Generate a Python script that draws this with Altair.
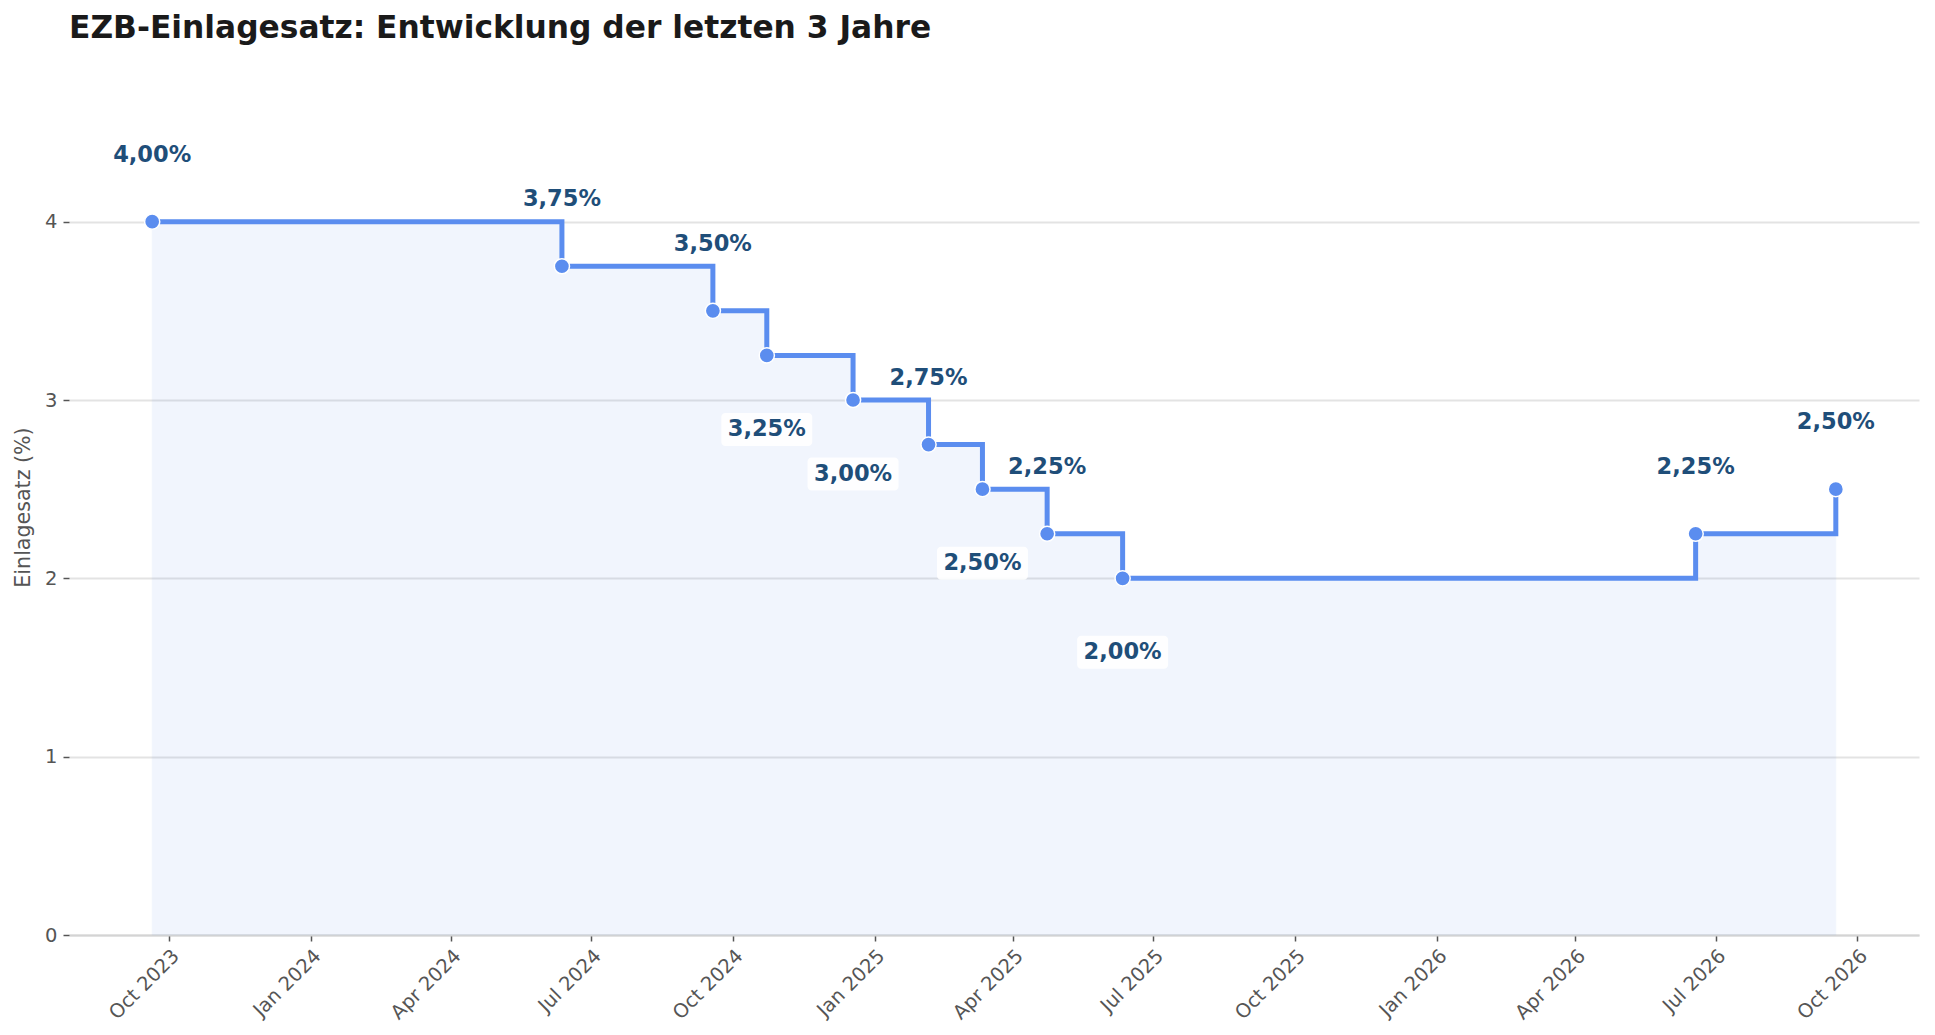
import altair as alt
import pandas as pd

# ECB deposit rate decisions (date, rate in %)
dates = ["2023-09-20", "2024-06-12", "2024-09-18", "2024-10-23", "2024-12-18",
         "2025-02-05", "2025-03-12", "2025-04-23", "2025-06-11", "2026-06-18",
         "2026-09-17"]
rates = [4.00, 3.75, 3.50, 3.25, 3.00, 2.75, 2.50, 2.25, 2.00, 2.25, 2.50]
label_side = ["oben", "oben", "oben", "unten", "unten", "oben", "unten",
              "oben", "unten", "oben", "oben"]
tick_dates = ["2023-10-01", "2024-01-01", "2024-04-01", "2024-07-01",
              "2024-10-01", "2025-01-01", "2025-04-01", "2025-07-01",
              "2025-10-01", "2026-01-01", "2026-04-01", "2026-07-01",
              "2026-10-01"]

df = pd.DataFrame({
    "datum": pd.to_datetime(dates),
    "satz": rates,
    "seite": label_side,
    "label": [f"{r:.2f}%".replace(".", ",") for r in rates],
})

BLUE = "#5B8DEF"
DARK = "#1F4E79"
GREY = "#555555"

x = alt.X(
    "datum:T",
    title=None,
    scale=alt.Scale(domain=["2023-07-28", "2026-11-10"]),
    axis=alt.Axis(
        values=[pd.Timestamp(t).isoformat() for t in tick_dates],
        format="%b %Y", labelAngle=-45, labelAlign="right", labelBaseline="top",
        labelFontSize=19.5, labelColor=GREY, labelPadding=5,
        tickColor=GREY, tickSize=6, tickWidth=1.5,
        domainColor="#d4d4d4", domainWidth=2, grid=False,
    ),
)
y = alt.Y(
    "satz:Q",
    title="Einlagesatz (%)",
    scale=alt.Scale(domain=[0, 4.8], nice=False),
    axis=alt.Axis(
        values=[0, 1, 2, 3, 4], labelFontSize=19.5, labelColor=GREY,
        labelPadding=6, tickColor=GREY, tickSize=6, tickWidth=1.5,
        domain=False, grid=True, gridColor="#e3e3e3", gridWidth=1.8,
        titleFontSize=20.6, titleFontWeight="normal", titleColor=GREY,
        titleAngle=-90, titleX=-46, titleY=428, titleAlign="center",
        titleBaseline="middle",
    ),
)

base = alt.Chart(df).encode(x=x, y=y)

area = base.mark_area(
    interpolate="step-after", color=BLUE, opacity=0.08,
    stroke=BLUE, strokeOpacity=0.6, strokeWidth=1,
)
line = base.mark_line(interpolate="step-after", color=BLUE, strokeWidth=5)
points = base.mark_point(
    filled=True, size=230, color=BLUE, opacity=1,
    stroke="white", strokeWidth=1.5,
)

above = base.transform_filter(alt.datum.seite == "oben").mark_text(
    dy=-67, font="DejaVu Sans", fontSize=22.5, fontWeight="bold", color=DARK,
    baseline="middle",
).encode(text="label:N")

below_data = base.transform_filter(alt.datum.seite == "unten")
boxes = below_data.mark_rect(
    width=91, height=33, cornerRadius=4, color="white", opacity=0.9, yOffset=74,
)
below = below_data.mark_text(
    dy=74, font="DejaVu Sans", fontSize=22.5, fontWeight="bold", color=DARK,
    baseline="middle",
).encode(text="label:N")

chart = alt.layer(area, line, points, above, boxes, below).properties(
    width=1850,
    height=856,
    autosize=alt.AutoSizeParams(type="none"),
    padding={"left": 61, "top": 71, "right": 8, "bottom": 92},
    background="white",
    title=alt.Title(
        "EZB-Einlagesatz: Entwicklung der letzten 3 Jahre",
        anchor="start", frame="group", font="DejaVu Sans", fontSize=31.3,
        fontWeight="bold", color="#1a1a1a", offset=35,
    ),
).configure_view(
    strokeWidth=0
).configure_axis(
    labelFont="DejaVu Sans", titleFont="DejaVu Sans"
)

chart.save("out.html", embed_options={"renderer": "svg", "actions": False})
